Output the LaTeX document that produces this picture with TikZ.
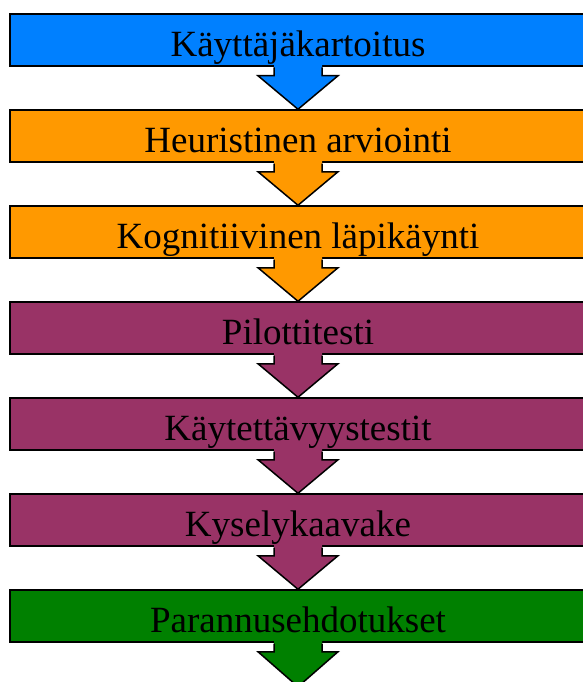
\documentclass[tikz,border=0pt]{standalone}
\usepackage{fontspec}
\setmainfont{Liberation Serif}
\usetikzlibrary{calc}
\definecolor{cblue}{HTML}{0080FF}
\definecolor{corange}{HTML}{FF9900}
\definecolor{cplum}{HTML}{993366}
\definecolor{cgreen}{HTML}{008000}
\begin{document}
\begin{tikzpicture}[x=1pt,y=-1pt,
  box/.style={draw=black, line width=1.5pt, minimum width=576pt, minimum height=52pt, inner sep=0pt},
  lbl/.style={anchor=base, font=\fontsize{37}{40}\selectfont, inner sep=0pt, text=black},
  arrowedge/.style={draw=black, line width=1.5pt, line join=miter}]
\useasboundingbox (0,0) rectangle (583,682);
\clip (0,0) rectangle (583,682);
% boxes
\foreach \i/\c in {1/cblue,2/corange,3/corange,4/cplum,5/cplum,6/cplum,7/cgreen}{
  \node[box, fill=\c] (b\i) at (298,{40+96*(\i-1)}) {};
}
\coordinate (tend) at ($(b7.south)+(0,44)$);
% block arrows
\foreach \a/\t/\c in {b1/b2.north/cblue,b2/b3.north/corange,b3/b4.north/corange,b4/b5.north/cplum,b5/b6.north/cplum,b6/b7.north/cplum,b7/tend/cgreen}{
  \fill[\c] ($(\a.south)+(-24,-4)$) -- ($(\a.south)+(-24,9)$) -- ($(\a.south)+(-40,9)$) -- (\t)
     -- ($(\a.south)+(40,9)$) -- ($(\a.south)+(24,9)$) -- ($(\a.south)+(24,-4)$) -- cycle;
  \draw[arrowedge] ($(\a.south)+(-24,0.75)$) -- ($(\a.south)+(-24,9)$) -- ($(\a.south)+(-40,9)$) -- (\t)
     -- ($(\a.south)+(40,9)$) -- ($(\a.south)+(24,9)$) -- ($(\a.south)+(24,0.75)$);
}
% labels
\foreach \i/\t in {1/Käyttäjäkartoitus,2/Heuristinen arviointi,3/Kognitiivinen läpikäynti,4/Pilottitesti,5/Käytettävyystestit,6/Kyselykaavake,7/Parannusehdotukset}{
  \node[lbl] (l\i) at ($(b\i.north)+(0,43)$) {\t};
}
\end{tikzpicture}
\end{document}
